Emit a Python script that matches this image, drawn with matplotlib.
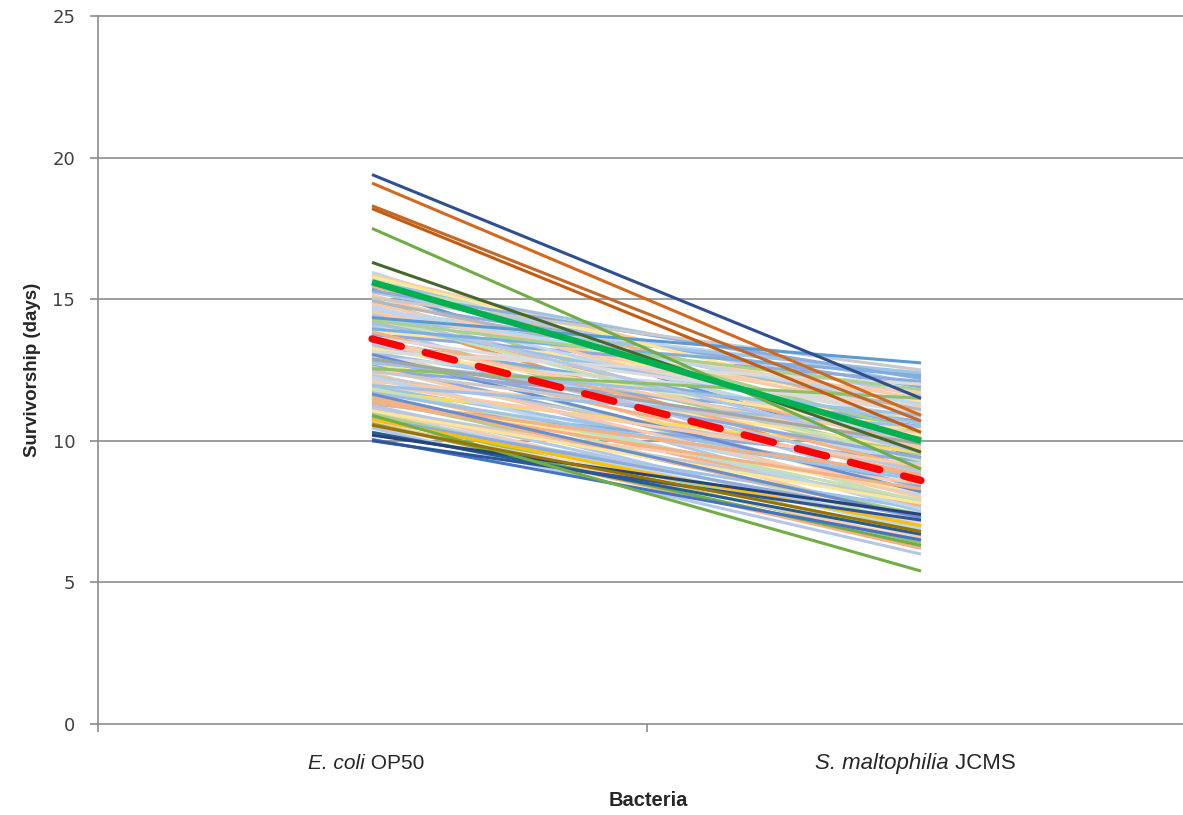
import matplotlib
matplotlib.use("Agg")
import matplotlib.pyplot as plt
from matplotlib.transforms import offset_copy

# --- data -----------------------------------------------------------------
categories = [("E. coli", "OP50"), ("S. maltophilia", "JCMS")]
yticks = [0, 5, 10, 15, 20, 25]

# survivorship (days) per strain: on E. coli OP50 / on S. maltophilia JCMS
# pale background strains first, darker strains drawn last
ecoli = [
    15.95, 15.85, 15.7, 15.6, 15.45, 15.35, 15.25, 15.1, 15.0, 14.9,
    14.85, 14.7, 14.6, 14.55, 14.4, 14.3, 14.2, 14.1, 14.05, 13.9,
    13.8, 13.75, 13.6, 13.5, 13.45, 13.3, 13.2, 13.1, 13.0, 12.95,
    12.8, 12.7, 12.65, 12.5, 12.4, 12.3, 12.2, 12.1, 12.05, 11.9,
    11.8, 11.75, 11.6, 11.5, 11.45, 11.3, 11.2, 11.15, 11.0, 10.9,
    10.85, 10.7, 10.6, 10.5, 10.45,
    15.8, 15.55, 15.3, 15.15, 14.95, 14.75, 14.5, 14.35, 14.15, 13.85,
    13.65, 13.4, 13.25, 13.05, 12.85, 12.6, 12.45, 12.25, 12.0, 11.85,
    11.7, 11.55, 11.35, 11.25, 11.05, 10.95, 10.8, 10.65, 15.05, 14.65,
    13.55, 12.75, 11.95, 11.4, 13.15, 14.45,
    13.95, 12.55, 11.65, 14.25, 12.9, 14.35,
    10.75, 10.6, 10.3, 10.2, 10.05, 10.0, 10.9, 10.55,
    16.3, 17.5, 18.2, 18.3, 19.1, 19.4,
]
smalt = [
    9.8, 11.2, 10.6, 12.0, 10.9, 9.4, 11.6, 10.2, 8.9, 11.9,
    10.4, 9.1, 12.3, 11.0, 8.6, 12.4, 9.9, 10.8, 8.3, 11.4,
    9.5, 12.1, 8.0, 10.5, 9.2, 11.7, 7.8, 10.1, 8.8, 11.3,
    7.5, 9.7, 8.4, 10.7, 7.2, 9.0, 8.1, 10.3, 7.0, 8.7,
    7.7, 9.6, 6.8, 8.2, 7.4, 9.3, 6.6, 7.9, 6.9, 8.5,
    6.4, 7.6, 6.2, 7.1, 6.0,
    11.0, 10.3, 12.2, 9.7, 11.1, 10.0, 11.5, 9.3, 10.6, 9.0,
    11.0, 8.9, 10.4, 8.2, 9.4, 8.0, 10.0, 7.6, 9.1, 7.9,
    8.6, 7.3, 8.3, 7.0, 7.8, 6.7, 7.3, 6.5, 12.5, 11.3,
    9.8, 10.9, 10.5, 8.8, 12.0, 9.6,
    12.3, 11.5, 7.3, 11.8, 9.9, 12.75,
    7.0, 6.3, 6.7, 7.4, 6.5, 7.2, 5.4, 6.8,
    9.6, 9.0, 10.3, 10.7, 10.9, 11.5,
]
pastels = ["#BDD7EE", "#F8CBAD", "#C5E0B4", "#9DC3E6", "#F4B183", "#DBDBDB",
           "#B4C7E7", "#FFE699", "#A9D18E", "#8FAADC", "#F8CBAD", "#C9C9C9"]
threads = ["#5B9BD5", "#F1975A", "#7CAFDD", "#8FAADC", "#FFD966", "#8CC168",
           "#B7B7B7", "#698ED0", "#F4B183", "#9DC3E6", "#A9D18E"]
accent_colors = [
    "#7CAFDD", "#8CC168", "#698ED0", "#A9D18E", "#A5A5A5", "#5B9BD5",
    "#FFC000", "#70AD47", "#255E91", "#264478", "#4472C4", "#2F5597",
    "#70AD47", "#997300",
    "#43682B", "#70AD47", "#C55A11", "#C0692A", "#D2691E", "#2F4F8F",
]

n2 = [15.6, 10.0]     # bold green line
mean = [13.6, 8.6]    # red dashed line

# --- plot -----------------------------------------------------------------
n_pale = len(ecoli) - len(accent_colors)
line_colors = [pastels[i % len(pastels)] for i in range(n_pale)] + accent_colors
# a few mid-tone threads inside the band
for i, c in zip(range(5, n_pale, 9), threads):
    line_colors[i] = c

fig = plt.figure(figsize=(11.83, 8.15), dpi=100)
ax = fig.add_axes([97.5 / 1183, 91 / 815, 1098 / 1183, 708 / 815])

x = [0, 1]
for a, b, c in zip(ecoli, smalt, line_colors):
    ax.plot(x, [a, b], color=c, lw=2.2, solid_capstyle="butt", zorder=2)
ax.plot(x, n2, color="#00B050", lw=4.6, solid_capstyle="butt", zorder=3)
ax.plot(x, mean, color="#FF0000", lw=5.2, dashes=(4.2, 3.4),
        dash_capstyle="round", zorder=4)

ax.set_xlim(-0.5, 1.5)
ax.set_ylim(0, 25)
for v in yticks[1:]:
    ax.axhline(v, color="#8C8C8C", lw=1.2, zorder=0, clip_on=False)

for s in ("top", "right"):
    ax.spines[s].set_visible(False)
for s in ("left", "bottom"):
    ax.spines[s].set_color("#8C8C8C")
    ax.spines[s].set_linewidth(1.2)

ax.set_yticks(yticks)
ax.tick_params(axis="y", length=6, width=1.2, color="#8C8C8C",
               labelcolor="#404040", labelsize=13, pad=10)
ax.set_xticks([-0.5, 0.5, 1.5])
ax.set_xticklabels([])
ax.tick_params(axis="x", length=6, width=1.2, color="#8C8C8C")

# category labels: italic species name + regular strain name, centred
fig.canvas.draw()
r = fig.canvas.get_renderer()
cat_y = -1.4
for i, (sp, strain) in enumerate(categories):
    fs = 15 if i == 0 else 16
    t1 = ax.text(i, cat_y, sp, style="italic", family="Liberation Sans",
                 fontsize=fs, color="#262626", ha="right", va="center")
    t2 = ax.text(i, cat_y, " " + strain, family="Liberation Sans",
                 fontsize=fs, color="#262626", ha="left", va="center")
    w1 = t1.get_window_extent(r).width
    w2 = t2.get_window_extent(r).width
    shift = (w1 - w2) / 2 * 72 / fig.dpi - 4
    t1.set_transform(offset_copy(ax.transData, fig=fig, x=shift, units="points"))
    t2.set_transform(offset_copy(ax.transData, fig=fig, x=shift, units="points"))

ax.set_ylabel("Survivorship (days)", family="Liberation Sans", fontweight="bold",
              fontsize=13.5, color="#262626", labelpad=8)
fig.text(648 / 1183, 1 - 800 / 815, "Bacteria", family="Liberation Sans",
         fontweight="bold", fontsize=14.5, color="#262626",
         ha="center", va="center")

fig.savefig("out.png", dpi=100)
